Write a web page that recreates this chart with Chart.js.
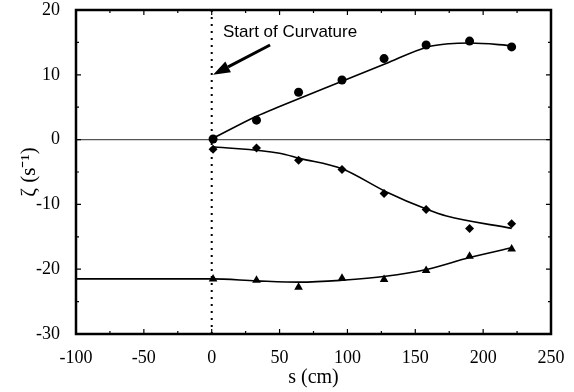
<!DOCTYPE html>
<html>
<head>
<meta charset="utf-8">
<script src="https://cdn.jsdelivr.net/npm/chart.js@4"></script>
<style>
  body { margin: 0; background: #fff; }
  #chart { display: block; }
</style>
</head>
<body>
<canvas id="chart" width="574" height="392"></canvas>
<script>
// measured stations along the bend (cm)
const sPositions = [1, 33, 64, 96, 127, 158, 190, 221];
const zetaCircles = [0.1, 3.0, 7.3, 9.2, 12.5, 14.6, 15.2, 14.3];
const zetaDiamonds = [-1.5, -1.3, -3.2, -4.6, -8.3, -10.8, -13.7, -13.0];
const zetaTriangles = [-21.5, -21.7, -22.8, -21.4, -21.6, -20.2, -18.0, -16.9];

// smooth fit curves drawn through the points
const fitTopS = [1, 33, 50, 96, 128, 159, 175, 190, 222];
const fitTopZeta = [0.2, 3.6, 5.1, 9.0, 11.7, 14.3, 14.8, 14.9, 14.5];
const fitMidS = [1, 50, 65, 96, 128, 159, 173, 221];
const fitMidZeta = [-1.1, -2.1, -2.9, -4.5, -8.0, -10.8, -11.8, -13.7];
const fitLowS = [-100, 0, 33, 65, 96, 128, 159, 190, 221];
const fitLowZeta = [-21.5, -21.5, -21.8, -22.0, -21.7, -21.1, -20.0, -18.2, -16.7];

const curvatureStart = 0;
const xTicks = [-100, -50, 0, 50, 100, 150, 200, 250];
const yTicks = [-30, -20, -10, 0, 10, 20];

// annotation, in data units
const noteText = 'Start of Curvature';
const noteAt = { s: 8.3, z: 16.5 };
const arrowFrom = { s: 43, z: 14.6 };
const arrowTo = { s: 1, z: 10 };

const toPoints = (xs, ys) => xs.map((x, i) => ({ x: x, y: ys[i] }));

const serif = "'Liberation Serif', 'Times New Roman', serif";

// keep the plot box where the layout padding puts it
function noLabelPadding(scale) {
    scale.paddingTop = 0;
    scale.paddingBottom = 0;
    scale.paddingLeft = 0;
    scale.paddingRight = 0;
}

const framePlugin = {
    id: 'frame',
    afterDraw(chart) {
        const ctx = chart.ctx;
        const a = chart.chartArea;
        const xs = chart.scales.x;
        const ys = chart.scales.y;
        ctx.save();
        ctx.strokeStyle = '#000';

        // inward ticks on all four sides
        ctx.lineWidth = 1.2;
        ctx.beginPath();
        for (let v = xs.min; v <= xs.max; v += 25) {
            const px = xs.getPixelForValue(v);
            const len = v % 50 === 0 ? 5 : 3;
            ctx.moveTo(px, a.bottom); ctx.lineTo(px, a.bottom - len);
            ctx.moveTo(px, a.top); ctx.lineTo(px, a.top + len);
        }
        for (let v = ys.min; v <= ys.max; v += 5) {
            const py = ys.getPixelForValue(v);
            const len = v % 10 === 0 ? 5 : 3;
            ctx.moveTo(a.left, py); ctx.lineTo(a.left + len, py);
            ctx.moveTo(a.right, py); ctx.lineTo(a.right - len, py);
        }
        ctx.stroke();

        // box
        ctx.lineWidth = 2.5;
        ctx.strokeRect(a.left, a.top, a.right - a.left, a.bottom - a.top);

        // annotation text + arrow
        ctx.fillStyle = '#000';
        ctx.font = "17px 'Liberation Sans', Arial, sans-serif";
        ctx.textAlign = 'left';
        ctx.textBaseline = 'middle';
        ctx.fillText(noteText, xs.getPixelForValue(noteAt.s), ys.getPixelForValue(noteAt.z));

        const x1 = xs.getPixelForValue(arrowFrom.s), y1 = ys.getPixelForValue(arrowFrom.z);
        const x2 = xs.getPixelForValue(arrowTo.s), y2 = ys.getPixelForValue(arrowTo.z);
        const ang = Math.atan2(y2 - y1, x2 - x1);
        const headLen = 17, headW = 6;
        const bx = x2 - headLen * Math.cos(ang), by = y2 - headLen * Math.sin(ang);
        ctx.lineWidth = 3;
        ctx.beginPath();
        ctx.moveTo(x1, y1);
        ctx.lineTo(bx, by);
        ctx.stroke();
        ctx.beginPath();
        ctx.moveTo(x2, y2);
        ctx.lineTo(bx + headW * Math.sin(ang), by - headW * Math.cos(ang));
        ctx.lineTo(bx - headW * Math.sin(ang), by + headW * Math.cos(ang));
        ctx.closePath();
        ctx.fill();
        ctx.restore();
    }
};

function markerSet(ys, style, radius) {
    return {
        type: 'scatter',
        data: toPoints(sPositions, ys),
        showLine: false,
        pointStyle: style,
        pointRadius: radius,
        pointBackgroundColor: '#000',
        pointBorderColor: '#000',
        pointBorderWidth: 0
    };
}

function fitSet(xs, ys) {
    return {
        type: 'line',
        data: toPoints(xs, ys),
        borderColor: '#000',
        borderWidth: 1.6,
        pointRadius: 0,
        cubicInterpolationMode: 'monotone',
        fill: false
    };
}

Chart.defaults.font.family = serif;

const chart = new Chart(document.getElementById('chart'), {
    type: 'scatter',
    data: {
        datasets: [
            {
                type: 'line',
                data: [{ x: curvatureStart, y: yTicks[0] }, { x: curvatureStart, y: yTicks[yTicks.length - 1] }],
                borderColor: '#000',
                borderWidth: 2,
                borderDash: [2, 5],
                pointRadius: 0
            },
            fitSet(fitTopS, fitTopZeta),
            fitSet(fitMidS, fitMidZeta),
            fitSet(fitLowS, fitLowZeta),
            markerSet(zetaCircles, 'circle', 4.5),
            markerSet(zetaDiamonds, 'rectRot', 4.5),
            markerSet(zetaTriangles, 'triangle', 5)
        ]
    },
    options: {
        responsive: false,
        animation: false,
        layout: { padding: { top: 10, right: 23, left: 0, bottom: 0 } },
        plugins: { legend: { display: false }, tooltip: { enabled: false } },
        scales: {
            x: {
                type: 'linear',
                min: xTicks[0],
                max: xTicks[xTicks.length - 1],
                afterBuildTicks: scale => { scale.ticks = xTicks.map(v => ({ value: v })); },
                grid: { display: false, drawTicks: false },
                border: { display: false },
                ticks: { color: '#000', padding: 13, font: { family: serif, size: 18 } },
                title: {
                    display: true,
                    text: 's (cm)',
                    color: '#000',
                    font: { family: serif, size: 20 },
                    padding: { top: 0, bottom: 2 }
                },
                afterFit: scale => { scale.height = 58; noLabelPadding(scale); }
            },
            y: {
                type: 'linear',
                min: yTicks[0],
                max: yTicks[yTicks.length - 1],
                afterBuildTicks: scale => { scale.ticks = yTicks.map(v => ({ value: v })); },
                grid: {
                    drawTicks: false,
                    color: c => (c.tick && c.tick.value === 0 ? '#555' : 'rgba(0,0,0,0)'),
                    lineWidth: 1.2
                },
                border: { display: false },
                ticks: { color: '#000', padding: 16, font: { family: serif, size: 18 } },
                title: {
                    display: true,
                    text: 'ζ (s⁻¹)',
                    color: '#000',
                    font: { family: serif, size: 21 },
                    padding: { top: 17, bottom: 0 }
                },
                afterFit: scale => { scale.width = 76; noLabelPadding(scale); }
            }
        }
    },
    plugins: [framePlugin]
});
</script>
</body>
</html>
